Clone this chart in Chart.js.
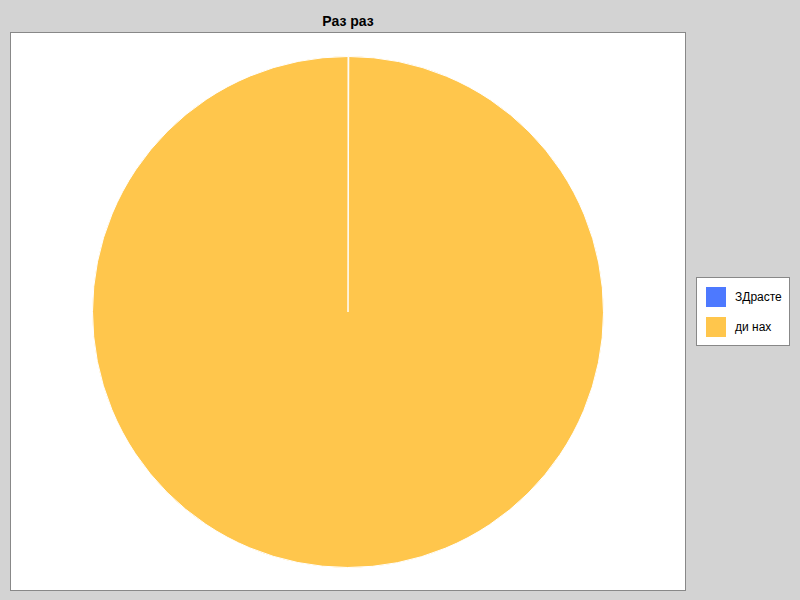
<!DOCTYPE html>
<html><head><meta charset="utf-8">
<script src="https://cdn.jsdelivr.net/npm/chart.js@4"></script>
<style>
body{margin:0;width:800px;height:600px;background:#d3d3d3;font-family:"Liberation Sans",Arial,sans-serif;position:relative;overflow:hidden}
#title{position:absolute;left:10px;width:676px;top:13px;text-align:center;font-weight:bold;font-size:14px;color:#000}
#frame{position:absolute;left:10px;top:32px;width:674px;height:557px;background:#fff;border:1px solid #888}
#legend{position:absolute;left:696px;top:277px;width:92px;height:67px;background:#fff;border:1px solid #888;font-size:12px}
.item{position:absolute;left:9px;display:flex;align-items:center}
.sw{width:20px;height:20px;margin-right:9px}
</style></head><body>
<div id="title">Раз раз</div>
<div id="frame"><canvas id="c" width="674" height="557" style="width:674px;height:557px"></canvas></div>
<div id="legend"></div>
<script>
const categories=["ЗДрасте","ди нах"];
const values=[0.05,100];
const colors=["#4d79ff","#ffc64c"];
const lg=document.getElementById('legend');
categories.forEach((c,i)=>{const d=document.createElement('div');d.className='item';d.style.top=(9+i*30)+'px';d.innerHTML='<div class="sw" style="background:'+colors[i]+'"></div>'+c;lg.appendChild(d);});
new Chart(document.getElementById('c'),{type:'pie',data:{labels:categories,datasets:[{data:values,backgroundColor:colors,borderColor:'#fff',borderWidth:1}]},
options:{responsive:false,animation:false,layout:{padding:{top:23,bottom:22}},plugins:{legend:{display:false},tooltip:{enabled:false}}}});
</script></body></html>
